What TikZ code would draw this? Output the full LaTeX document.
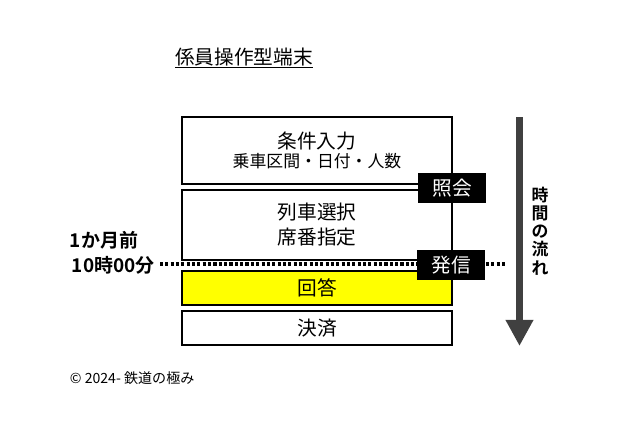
\documentclass[tikz,border=0pt]{standalone}
\usepackage{fontspec}
\setmainfont{Noto Sans CJK JP}[BoldFont={* Bold}]
\usetikzlibrary{arrows.meta}
\definecolor{flowgray}{HTML}{404040}
\definecolor{answeryellow}{HTML}{FFFF00}

\begin{document}
\begin{tikzpicture}[x=0.025cm, y=-0.025cm,
    box/.style={draw, line width=1pt, minimum width=6.75cm, align=center, inner sep=0pt},
    blackbox/.style={fill=black, text=white, minimum width=1.7cm, minimum height=0.75cm,
        inner sep=0pt, font=\fontsize{14}{17}\selectfont}]
    \useasboundingbox (0,0) rectangle (640,436);

    % 見出し
    \node (title) at (244,58) {\fontsize{14}{17}\selectfont\underline{係員操作型端末}};

    % 操作の流れ
    \node[box, minimum height=1.675cm] (cond) at (317,150.5)
        {{\fontsize{14}{16}\selectfont 条件入力}\\[1pt]{\fontsize{12}{14}\selectfont 乗車区間・日付・人数}};
    \node[box, minimum height=1.75cm, font=\fontsize{14}{17.7}\selectfont] (select) at (317,225)
        {列車選択\\席番指定};
    \node[box, fill=answeryellow, minimum height=0.85cm, font=\fontsize{14}{17}\selectfont] (answer) at (317,288) {回答};
    \node[box, minimum height=0.85cm, font=\fontsize{14}{17}\selectfont] (pay) at (317,328) {決済};

    % 10時00分の線
    \coordinate (dotL) at (160,264);
    \coordinate (dotR) at (505,264);
    \draw[line width=2.2pt, dash pattern=on 2.2pt off 1.6pt] (dotL) -- (dotR);

    \node[blackbox] (query) at (452,188) {照会};
    \node[blackbox] (send) at (451,265) {発信};

    % 左の時刻
    \node[anchor=west, font=\bfseries\fontsize{13.5}{15}\selectfont] (month) at (65,240) {1か月前};
    \node[anchor=west, font=\bfseries\fontsize{13.5}{15}\selectfont] (clock) at (67,265) {10時00分};

    % 時間の流れ
    \coordinate (flowtop) at (519.5,117);
    \coordinate (flowtip) at (519.5,346);
    \draw[flowgray, line width=5pt, -{Triangle[width=0.65cm, length=0.65cm]}] (flowtop) -- (flowtip);
    \node[align=center, font=\bfseries\fontsize{12}{12.9}\selectfont] (flowlabel) at (540,231)
        {時\\間\\の\\流\\れ};

    % 著作権
    \node[anchor=west, font=\fontsize{10}{12}\selectfont] (copy) at (65,378) {© 2024- 鉄道の極み};
\end{tikzpicture}
\end{document}
